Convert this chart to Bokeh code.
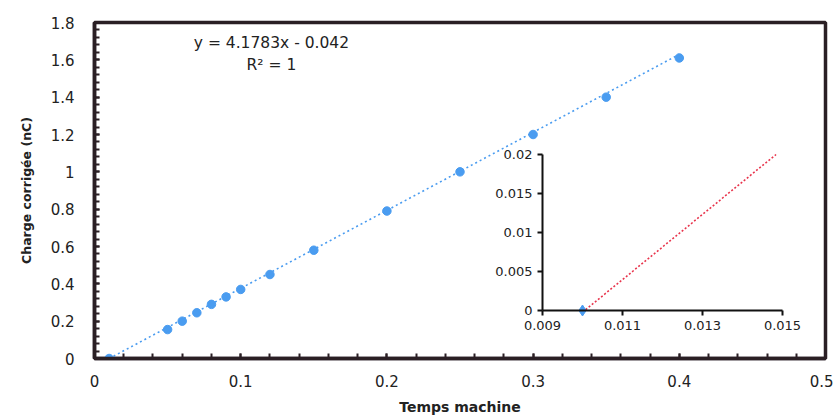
import numpy as np
from bokeh.plotting import figure
from bokeh.models import (Range1d, LinearAxis, FixedTicker, Label)
from bokeh.embed import file_html
from bokeh.resources import INLINE

# ---- data ----
temps = [0.01, 0.05, 0.06, 0.07, 0.08, 0.09, 0.10, 0.12, 0.15, 0.20, 0.25, 0.30, 0.35, 0.40]
charge = [0.0, 0.155, 0.20, 0.245, 0.29, 0.33, 0.37, 0.45, 0.58, 0.79, 1.0, 1.2, 1.4, 1.61]
slope = 4.1783
intercept = -0.042
eq_text = "y = 4.1783x - 0.042"
r2_text = "R² = 1"

x_ticks = [0, 0.1, 0.2, 0.3, 0.4, 0.5]
x_tick_labels = ["0", "0.1", "0.2", "0.3", "0.4", "0.5"]
y_ticks = [0, 0.2, 0.4, 0.6, 0.8, 1.0, 1.2, 1.4, 1.6, 1.8]
y_tick_labels = ["0", "0.2", "0.4", "0.6", "0.8", "1", "1.2", "1.4", "1.6", "1.8"]

inset_x_ticks = [0.009, 0.011, 0.013, 0.015]
inset_x_labels = ["0.009", "0.011", "0.013", "0.015"]
inset_y_ticks = [0, 0.005, 0.01, 0.015, 0.02]
inset_y_labels = ["0", "0.005", "0.01", "0.015", "0.02"]
inset_point_x = [0.01]
inset_point_y = [0.0]

BLUE = "#4a9cf0"
RED = "#e8344c"
DARK = "#2a1f24"
TXT = "#222222"
FONT = "DejaVu Sans"

W, H = 833, 417
L, R, T, B = 94, 8, 22, 59

p = figure(width=W, height=H, output_backend="svg", toolbar_location=None,
           x_range=Range1d(0, 0.5), y_range=Range1d(0, 1.8),
           min_border_left=L, min_border_right=R, min_border_top=T, min_border_bottom=B)
p.xgrid.visible = False
p.ygrid.visible = False
p.outline_line_color = DARK
p.outline_line_width = 3.5
p.background_fill_color = "white"
p.border_fill_color = "white"

# main axes
xa = p.xaxis[0]
xa.ticker = FixedTicker(ticks=x_ticks, minor_ticks=list(np.round(np.arange(0, 0.5001, 0.02), 4)))
xa.major_label_overrides = {t: l for t, l in zip(x_ticks, x_tick_labels)}
ya = p.yaxis[0]
ya.ticker = FixedTicker(ticks=y_ticks, minor_ticks=list(np.round(np.arange(0, 1.8001, 0.04), 4)))
ya.major_label_overrides = {t: l for t, l in zip(y_ticks, y_tick_labels)}
for ax in (xa, ya):
    ax.axis_line_color = DARK
    ax.axis_line_width = 3.5
    ax.major_tick_line_color = DARK
    ax.minor_tick_line_color = DARK
    ax.major_tick_line_width = 2
    ax.minor_tick_line_width = 2
    ax.major_tick_in = 5
    ax.major_tick_out = 0
    ax.minor_tick_in = 5
    ax.minor_tick_out = 0
    ax.major_label_text_font = FONT
    ax.major_label_text_font_size = "15px"
    ax.major_label_text_color = TXT
    ax.axis_label_text_font = FONT
    ax.axis_label_text_font_style = "bold"
    ax.axis_label_text_color = TXT
xa.axis_label = "Temps machine"
xa.axis_label_text_font_size = "14px"
xa.major_label_standoff = 16
xa.axis_label_standoff = 9
ya.axis_label = "Charge corrigée (nC)"
ya.axis_label_text_font_size = "12.5px"
ya.major_label_standoff = 20
ya.axis_label_standoff = 14

# trendline (main)
tx = [min(temps), max(temps)]
ty = [slope * v + intercept for v in tx]
p.line(tx, ty, line_color=BLUE, line_width=1.6, line_dash="2 3")
p.scatter(temps, charge, size=8.5, marker="circle", fill_color=BLUE, line_color=BLUE)

p.add_layout(Label(x=0.121, y=1.69, text=eq_text, text_align="center", text_baseline="middle",
                   text_font=FONT, text_font_size="15.5px", text_color=TXT))
p.add_layout(Label(x=0.121, y=1.575, text=r2_text, text_align="center", text_baseline="middle",
                   text_font=FONT, text_font_size="15.5px", text_color=TXT))

# ---- inset via extra ranges (pixel box 542..782 x 154..310) ----
fx0, fx1 = L, W - R
fy0, fy1 = T, H - B
ix_l, ix_r, iy_t, iy_b = 542, 782, 154, 310
ixmin, ixmax = inset_x_ticks[0], inset_x_ticks[-1]
iymin, iymax = inset_y_ticks[0], inset_y_ticks[-1]
sx = (ixmax - ixmin) / (ix_r - ix_l)
sy = (iymax - iymin) / (iy_b - iy_t)
p.extra_x_ranges = {"ix": Range1d(ixmin - (ix_l - fx0) * sx, ixmax + (fx1 - ix_r) * sx)}
p.extra_y_ranges = {"iy": Range1d(iymin - (fy1 - iy_b) * sy, iymax + (iy_t - fy0) * sy)}

iya = LinearAxis(x_range_name="ix", y_range_name="iy", fixed_location=ixmin, bounds=(iymin, iymax),
                 ticker=FixedTicker(ticks=inset_y_ticks, minor_ticks=[]))
iya.major_label_overrides = {t: l for t, l in zip(inset_y_ticks, inset_y_labels)}
ixa = LinearAxis(x_range_name="ix", y_range_name="iy", fixed_location=iymin, bounds=(ixmin, ixmax),
                 ticker=FixedTicker(ticks=inset_x_ticks, minor_ticks=[]))
ixa.major_label_overrides = {t: l for t, l in zip(inset_x_ticks, inset_x_labels)}
for ax in (iya, ixa):
    ax.axis_line_color = "#111111"
    ax.axis_line_width = 2
    ax.major_tick_line_color = "#111111"
    ax.major_tick_line_width = 2
    ax.major_tick_in = 0
    ax.major_tick_out = 5
    ax.major_label_standoff = 5
    ax.major_label_text_font = FONT
    ax.major_label_text_font_size = "13px"
    ax.major_label_text_color = TXT
p.add_layout(iya, "left")
p.add_layout(ixa, "below")

# red trendline in inset
rx = [inset_point_x[0], (iymax - intercept) / slope]
ry = [slope * v + intercept for v in rx]
p.line(rx, ry, x_range_name="ix", y_range_name="iy", line_color=RED, line_width=1.6, line_dash="2 2")
p.scatter(inset_point_x, inset_point_y, x_range_name="ix", y_range_name="iy", marker="diamond",
          size=11, fill_color=BLUE, line_color=BLUE)

open("out.html", "w").write(file_html(p, INLINE))
